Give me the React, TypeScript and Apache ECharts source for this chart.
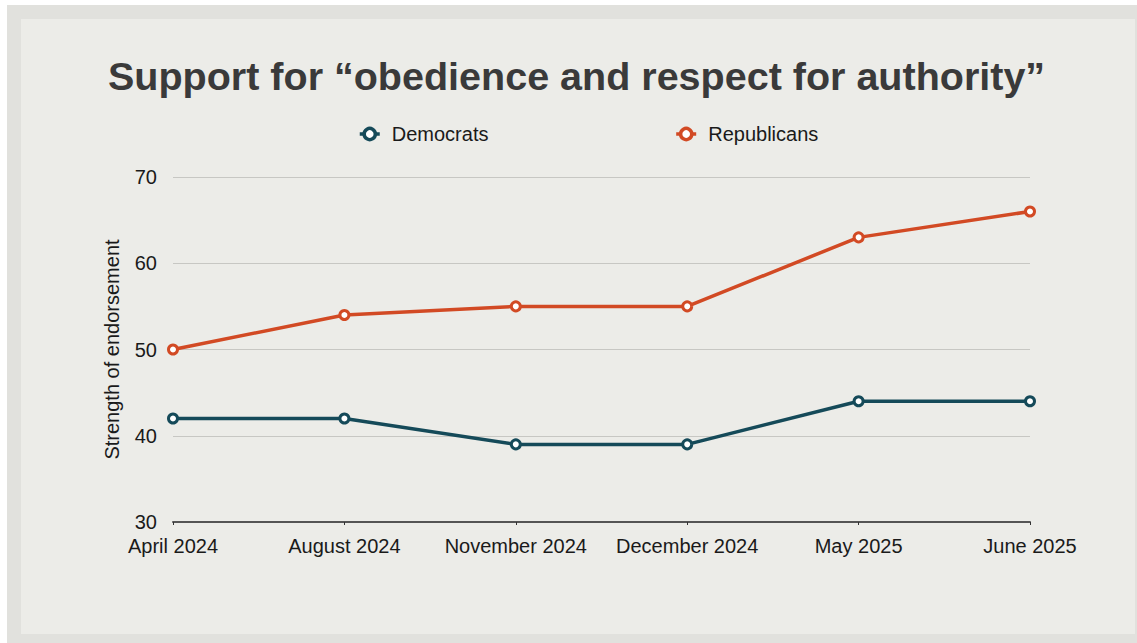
import React, { useEffect, useRef } from "react";
import * as echarts from "echarts";

const categories = ["April 2024", "August 2024", "November 2024", "December 2024", "May 2025", "June 2025"];
const democrats = [42, 42, 39, 39, 44, 44];
const republicans = [50, 54, 55, 55, 63, 66];
const titleText = "Support for \u201cobedience and respect for authority\u201d";
const yAxisName = "Strength of endorsement";

const FONT = "'Liberation Sans', Arial, Helvetica, sans-serif";
const DEM = "#154a59";
const REP = "#d24a24";

export default function App() {
  const ref = useRef<HTMLDivElement>(null);
  useEffect(() => {
    document.body.style.margin = "0";
    const chart = echarts.init(ref.current!, null, { renderer: "svg" });
    chart.setOption({
      animation: false,
      backgroundColor: "transparent",
      textStyle: { fontFamily: FONT },
      title: {
        text: titleText,
        left: 103,
        top: 51,
        textStyle: { fontFamily: FONT, fontSize: 39.5, fontWeight: "bold", color: "#3a3a3a" },
      },
      legend: {
        left: 353,
        top: 119,
        itemWidth: 20,
        itemHeight: 14,
        itemGap: 186,
        itemStyle: { borderWidth: 3.5 },
        lineStyle: { width: 3.5 },
        textStyle: { fontFamily: FONT, fontSize: 20, color: "#1a1a1a", padding: [0, 0, 0, 7] },
        data: ["Democrats", "Republicans"],
      },
      grid: { left: 173, right: 107, top: 177, bottom: 121, containLabel: false, outerBoundsMode: "none" },
      xAxis: {
        type: "category",
        data: categories,
        boundaryGap: false,
        axisLine: { lineStyle: { color: "#555555", width: 2 } },
        axisTick: { show: true, alignWithLabel: true, length: 3, lineStyle: { color: "#333333", width: 1 } },
        axisLabel: { fontFamily: FONT, fontSize: 20, color: "#1a1a1a", margin: 14, interval: 0 },
        splitLine: { show: false },
      },
      yAxis: {
        type: "value",
        min: 30,
        max: 70,
        interval: 10,
        name: yAxisName,
        nameLocation: "middle",
        nameGap: 51,
        nameTextStyle: { fontFamily: FONT, fontSize: 20, color: "#1a1a1a" },
        axisLine: { show: false },
        axisTick: { show: false },
        axisLabel: { fontFamily: FONT, fontSize: 20, color: "#1a1a1a", margin: 16 },
        splitLine: { lineStyle: { color: "#c7c7c3", width: 1 } },
      },
      series: [
        {
          name: "Democrats",
          type: "line",
          data: democrats,
          symbol: "circle",
          symbolSize: 9,
          showAllSymbol: true,
          lineStyle: { color: DEM, width: 3.5 },
          itemStyle: { color: "#ffffff", borderColor: DEM, borderWidth: 3 },
        },
        {
          name: "Republicans",
          type: "line",
          data: republicans,
          symbol: "circle",
          symbolSize: 9,
          showAllSymbol: true,
          lineStyle: { color: REP, width: 3.5 },
          itemStyle: { color: "#ffffff", borderColor: REP, borderWidth: 3 },
        },
      ],
    });
    return () => chart.dispose();
  }, []);
  return (
    <div style={{ position: "absolute", left: 0, top: 0, width: 1137, height: 643, background: "#ffffff" }}>
      <div style={{ position: "absolute", left: 7, top: 5, width: 1130, height: 638, background: "#e1e1dd" }} />
      <div style={{ position: "absolute", left: 21, top: 19, width: 1114, height: 615, background: "#ececE8" }} />
      <div ref={ref} style={{ position: "absolute", left: 0, top: 0, width: 1137, height: 643 }} />
    </div>
  );
}
